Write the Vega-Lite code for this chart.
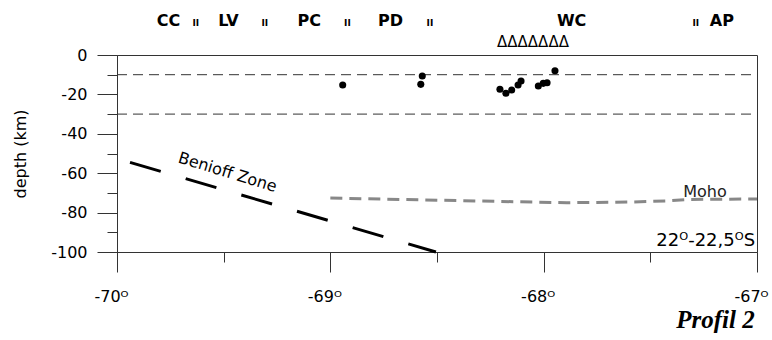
{
  "$schema": "https://vega.github.io/schema/vega-lite/v6.json",
  "width": 640,
  "height": 197,
  "autosize": {"type": "none"},
  "padding": {"left": 117, "top": 55, "right": 15, "bottom": 88},
  "background": "white",
  "config": {"view": {"stroke": "#333", "strokeWidth": 1}, "font": "DejaVu Sans"},
  "datasets": {
    "levels": [
      {"lon": -70, "lon2": -67, "depth": -10},
      {"lon": -70, "lon2": -67, "depth": -30}
    ],
    "benioff": [
      {"lon": -69.939, "depth": -54.5},
      {"lon": -68.505, "depth": -100}
    ],
    "moho": [
      {"lon": -69.0, "depth": -72.6},
      {"lon": -68.673, "depth": -73.3},
      {"lon": -68.314, "depth": -74.1},
      {"lon": -67.892, "depth": -75.0},
      {"lon": -67.581, "depth": -74.6},
      {"lon": -67.423, "depth": -74.1},
      {"lon": -67.314, "depth": -73.3},
      {"lon": -67.0, "depth": -73.1}
    ],
    "quakes": [
      {"lon": -68.942, "depth": -15.2},
      {"lon": -68.569, "depth": -10.7},
      {"lon": -68.576, "depth": -14.9},
      {"lon": -68.205, "depth": -17.4},
      {"lon": -68.177, "depth": -19.4},
      {"lon": -68.150, "depth": -17.8},
      {"lon": -68.120, "depth": -15.2},
      {"lon": -68.106, "depth": -13.2},
      {"lon": -68.025, "depth": -15.7},
      {"lon": -68.002, "depth": -14.4},
      {"lon": -67.984, "depth": -14.1},
      {"lon": -67.947, "depth": -8.0}
    ],
    "regions": [
      {"lon": -69.759, "depth": 14.7, "label": "CC"},
      {"lon": -69.478, "depth": 14.7, "label": "LV"},
      {"lon": -69.099, "depth": 14.7, "label": "PC"},
      {"lon": -68.718, "depth": 14.7, "label": "PD"},
      {"lon": -67.869, "depth": 14.7, "label": "WC"},
      {"lon": -67.165, "depth": 14.7, "label": "AP"}
    ],
    "separators": [
      {"lon": -69.631, "depth": 14.7, "label": "II"},
      {"lon": -69.307, "depth": 14.7, "label": "II"},
      {"lon": -68.920, "depth": 14.7, "label": "II"},
      {"lon": -68.533, "depth": 14.7, "label": "II"},
      {"lon": -67.287, "depth": 14.7, "label": "II"}
    ],
    "volcanoes": [
      {"lon": -68.05, "depth": 3.9, "label": "ΔΔΔΔΔΔΔ"}
    ],
    "notes": [
      {"lon": -69.482, "depth": -59.6, "label": "Benioff Zone"}
    ],
    "mohoLabel": [
      {"lon": -67.244, "depth": -71.9, "label": "Moho"}
    ],
    "range": [
      {"lon": -67.009, "depth": -97.0, "label": "22ᴼ-22,5ᴼS"}
    ],
    "profile": [
      {"lon": -67.011, "depth": -138.6, "label": "Profil 2"}
    ]
  },
  "encoding": {
    "x": {
      "field": "lon",
      "type": "quantitative",
      "scale": {"domain": [-70, -67], "nice": false, "zero": false},
      "axis": {
        "values": [-70, -69.5, -69, -68.5, -68, -67.5, -67],
        "labelExpr": "datum.value % 1 === 0 ? datum.value + 'ᴼ' : ''",
        "tickSize": {"condition": {"test": "datum.value % 1 !== 0", "value": 10}, "value": 20},
        "labelFont": "DejaVu Sans",
        "labelFontSize": 16,
        "labelColor": "black",
        "labelPadding": 16,
        "labelAlign": "right",
        "labelOffset": 11,
        "labelFlush": false,
        "labelOverlap": false,
        "domainColor": "#333",
        "tickColor": "#333",
        "grid": false,
        "title": null
      }
    },
    "y": {
      "field": "depth",
      "type": "quantitative",
      "scale": {"domain": [-100, 0], "nice": false, "zero": false},
      "axis": {
        "values": [-100, -90, -80, -70, -60, -50, -40, -30, -20, -10, 0],
        "labelExpr": "datum.value % 20 === 0 ? '' + datum.value : ''",
        "tickSize": {"condition": {"test": "datum.value % 20 !== 0", "value": 10}, "value": 20},
        "labelFont": "DejaVu Sans",
        "labelFontSize": 16,
        "labelColor": "black",
        "labelPadding": 10,
        "labelFlush": false,
        "labelOverlap": false,
        "domainColor": "#333",
        "tickColor": "#333",
        "grid": false,
        "title": "depth (km)",
        "titleFont": "DejaVu Sans",
        "titleFontSize": 16,
        "titleFontWeight": "normal",
        "titleColor": "black",
        "titlePadding": 22
      }
    }
  },
  "layer": [
    {
      "data": {"name": "levels"},
      "mark": {"type": "rule", "color": "#333", "strokeWidth": 1, "strokeDash": [10, 6]},
      "encoding": {"x2": {"field": "lon2"}}
    },
    {
      "data": {"name": "moho"},
      "mark": {"type": "line", "color": "#888", "strokeWidth": 3, "strokeDash": [12, 7]},
      "encoding": {}
    },
    {
      "data": {"name": "benioff"},
      "mark": {"type": "line", "color": "black", "strokeWidth": 3, "strokeDash": [32, 26]},
      "encoding": {}
    },
    {
      "data": {"name": "quakes"},
      "mark": {"type": "point", "filled": true, "color": "black", "opacity": 1, "size": 50},
      "encoding": {}
    },
    {
      "data": {"name": "regions"},
      "mark": {"type": "text", "font": "DejaVu Sans", "fontSize": 16, "fontWeight": "bold", "color": "black", "align": "center", "baseline": "alphabetic", "clip": false},
      "encoding": {"text": {"field": "label"}}
    },
    {
      "data": {"name": "separators"},
      "mark": {"type": "text", "font": "DejaVu Sans", "fontSize": 9, "fontWeight": "bold", "color": "black", "align": "center", "baseline": "alphabetic", "clip": false},
      "encoding": {"text": {"field": "label"}}
    },
    {
      "data": {"name": "volcanoes"},
      "mark": {"type": "text", "font": "DejaVu Sans", "fontSize": 15, "color": "black", "align": "center", "baseline": "alphabetic", "clip": false},
      "encoding": {"text": {"field": "label"}}
    },
    {
      "data": {"name": "notes"},
      "mark": {"type": "text", "font": "DejaVu Sans", "fontSize": 16, "color": "black", "align": "center", "baseline": "middle", "angle": 17},
      "encoding": {"text": {"field": "label"}}
    },
    {
      "data": {"name": "mohoLabel"},
      "mark": {"type": "text", "font": "DejaVu Sans", "fontSize": 16, "color": "#222", "align": "center", "baseline": "alphabetic"},
      "encoding": {"text": {"field": "label"}}
    },
    {
      "data": {"name": "range"},
      "mark": {"type": "text", "font": "DejaVu Sans", "fontSize": 18, "color": "black", "align": "right", "baseline": "alphabetic"},
      "encoding": {"text": {"field": "label"}}
    },
    {
      "data": {"name": "profile"},
      "mark": {"type": "text", "font": "Liberation Serif", "fontSize": 25, "fontWeight": "bold", "fontStyle": "italic", "color": "black", "align": "right", "baseline": "alphabetic", "clip": false},
      "encoding": {"text": {"field": "label"}}
    }
  ]
}
